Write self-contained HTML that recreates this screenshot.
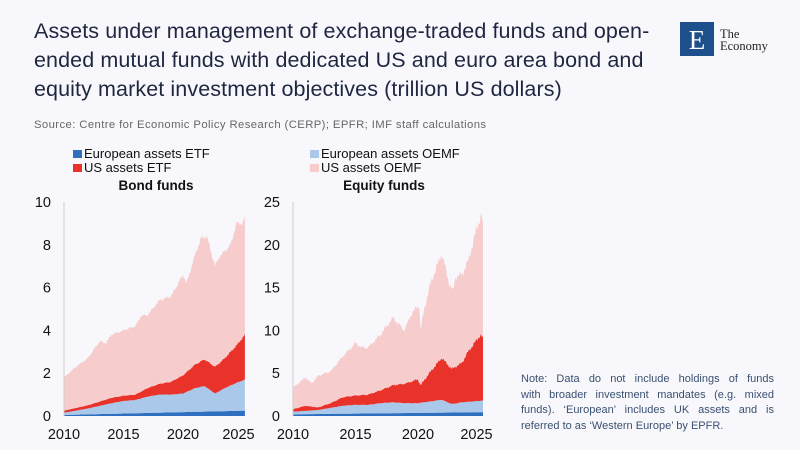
<!DOCTYPE html><html><head><meta charset="utf-8"><style>
body{margin:0;width:800px;height:450px;background:#f8f8fc;font-family:"Liberation Sans",sans-serif;position:relative;overflow:hidden}
.t{position:absolute;left:34px;top:17px;font-size:21.5px;line-height:29px;color:#1e2640;width:640px;letter-spacing:0.1px}
.s{position:absolute;left:34px;top:119px;font-size:11.3px;color:#666;letter-spacing:0.4px}
.n{position:absolute;left:521px;top:372px;font-size:11px;line-height:15.5px;color:#3a5070;width:253px;white-space:nowrap}
.n div{text-align:justify;text-align-last:justify}
.n div.l{text-align-last:left}
</style></head><body>
<div class="t">Assets under management of exchange-traded funds and open-ended mutual funds with dedicated US and euro area bond and equity market investment objectives (trillion US dollars)</div>
<div class="s">Source: Centre for Economic Policy Research (CERP); EPFR; IMF staff calculations</div>
<div style="position:absolute;left:680px;top:22px;width:34px;height:34px;background:#1d4f8c;color:#fff;font-family:'Liberation Serif',serif;font-size:27px;text-align:center;line-height:36px">E</div>
<div style="position:absolute;left:720px;top:28px;font-family:'Liberation Serif',serif;font-size:12.5px;line-height:12px;color:#222">The<br>Economy</div>
<div class="n"><div>Note: Data do not include holdings of funds</div><div>with broader investment mandates (e.g. mixed</div><div>funds). ‘European’ includes UK assets and is</div><div class="l">referred to as ‘Western Europe’ by EPFR.</div></div>
<svg id="c" width="800" height="450" style="position:absolute;left:0;top:0" font-family="Liberation Sans, sans-serif">
<g font-size="13" fill="#111">
<rect x="73" y="150" width="9" height="8" fill="#2e6fc0"/><text x="84" y="158">European assets ETF</text>
<rect x="73" y="164" width="9" height="8" fill="#e8322a"/><text x="84" y="172">US assets ETF</text>
<rect x="310" y="150" width="9" height="8" fill="#a9c8ea"/><text x="321" y="158">European assets OEMF</text>
<rect x="310" y="164" width="9" height="8" fill="#f7cccc"/><text x="321" y="172">US assets OEMF</text>
<text x="156" y="190" font-weight="bold" font-size="13.5" text-anchor="middle">Bond funds</text>
<text x="384" y="190" font-weight="bold" font-size="13.5" text-anchor="middle">Equity funds</text>
</g>
<g id="g"></g>
</svg>
<script>
function ip(p,x){if(x<=p[0][0])return p[0][1];for(let i=1;i<p.length;i++){if(x<=p[i][0]){let a=p[i-1],b=p[i];return a[1]+(b[1]-a[1])*(x-a[0])/(b[0]-a[0]);}}return p[p.length-1][1];}
function draw(cfg){let g=document.getElementById('g');let s='';
const X=y=>cfg.x0+(y-2010)*cfg.xs, Y=v=>416-v*cfg.ys;
let N=300,xs=[];for(let i=0;i<=N;i++)xs.push(2010+i*(cfg.end-2010)/N);
let layers=cfg.layers;let prev=xs.map(()=>0);
layers.forEach((L,k)=>{let top=xs.map((x,i)=>{let v=ip(L.p,x)*(1+L.j*(Math.sin(i*1.7)*0.5+Math.sin(i*0.53)*0.5));return Math.max(v,prev[i]);});
let pts=xs.map((x,i)=>X(x).toFixed(1)+','+Y(top[i]).toFixed(1));
let bot=xs.map((x,i)=>X(x).toFixed(1)+','+Y(prev[i]).toFixed(1)).reverse();
s+='<polygon fill="'+L.c+'" points="'+pts.concat(bot).join(' ')+'"/>';prev=top;});
s+='<line x1="'+cfg.x0+'" y1="202" x2="'+cfg.x0+'" y2="416" stroke="#ccc"/>';
cfg.ticks.forEach(t=>{s+='<text x="'+(cfg.x0-13)+'" y="'+(Y(t)+5)+'" font-size="14.5" fill="#111" text-anchor="end">'+t+'</text>';});
[2010,2015,2020,2025].forEach(y=>{s+='<text x="'+(X(y)+(y==2025?-4:0))+'" y="439" font-size="14.5" fill="#111" text-anchor="middle">'+y+'</text>';});
g.innerHTML+=s;}
draw({x0:64,xs:11.9,ys:21.4,end:2025.2,ticks:[0,2,4,6,8,10],layers:[
{c:'#2e6fc0',j:0,p:[[2010,0.05],[2025.2,0.25]]},
{c:'#a9c8ea',j:0.01,p:[[2010,0.15],[2012,0.35],[2014,0.6],[2015,0.7],[2016,0.75],[2017,0.9],[2018,1.0],[2019,1.0],[2020,1.05],[2021,1.3],[2021.8,1.4],[2022.7,1.05],[2023.5,1.3],[2024.5,1.55],[2025.2,1.7]]},
{c:'#e8322a',j:0.015,p:[[2010,0.25],[2012,0.5],[2014,0.85],[2015,0.95],[2016,1.0],[2017,1.3],[2018,1.5],[2019,1.6],[2020,1.9],[2021,2.4],[2021.8,2.65],[2022.7,2.3],[2023.5,2.7],[2024.5,3.3],[2025.2,3.8]]},
{c:'#f7cccc',j:0.015,p:[[2010,1.8],[2011,2.3],[2012,2.7],[2013,3.5],[2013.5,3.4],[2014,3.8],[2015,4.0],[2016,4.2],[2016.5,4.7],[2017,4.7],[2018,5.4],[2019,5.6],[2020,6.6],[2020.3,6.2],[2021,7.5],[2021.5,8.3],[2022,8.4],[2022.7,7.0],[2023,7.4],[2024,8.0],[2024.5,9.0],[2025,9.0],[2025.2,9.3]]}]});
draw({x0:293,xs:12.5,ys:8.56,end:2025.2,ticks:[0,5,10,15,20,25],layers:[
{c:'#2e6fc0',j:0.02,p:[[2010,0.2],[2025.2,0.45]]},
{c:'#a9c8ea',j:0.02,p:[[2010,0.5],[2012,0.7],[2014,1.2],[2015,1.3],[2016,1.3],[2017,1.5],[2018,1.6],[2019,1.5],[2020,1.5],[2021,1.7],[2021.9,1.9],[2022.7,1.4],[2023.5,1.6],[2025.2,1.8]]},
{c:'#e8322a',j:0.03,p:[[2010,0.8],[2011,1.2],[2012,1.0],[2013,1.5],[2014,2.2],[2015,2.4],[2016,2.5],[2017,3.0],[2018,3.6],[2019,3.8],[2020,4.3],[2020.2,3.6],[2021,5.2],[2021.9,6.8],[2022.7,5.5],[2023.5,6.2],[2024,7.5],[2025,9.5],[2025.2,9.1]]},
{c:'#f7cccc',j:0.03,p:[[2010,3.3],[2011,4.5],[2011.5,3.8],[2012,4.7],[2013,5.2],[2014,7.0],[2015,8.5],[2015.5,8.0],[2016,8.0],[2017,9.5],[2018,11.5],[2018.9,10],[2019.5,12],[2020.1,13],[2020.2,10],[2020.5,12.5],[2021,15.5],[2021.9,19],[2022.5,15.5],[2022.8,14.5],[2023,16.3],[2023.5,16.5],[2024,18],[2024.8,22.5],[2025.1,23.5],[2025.2,22]]}]});
</script>
</body></html>
